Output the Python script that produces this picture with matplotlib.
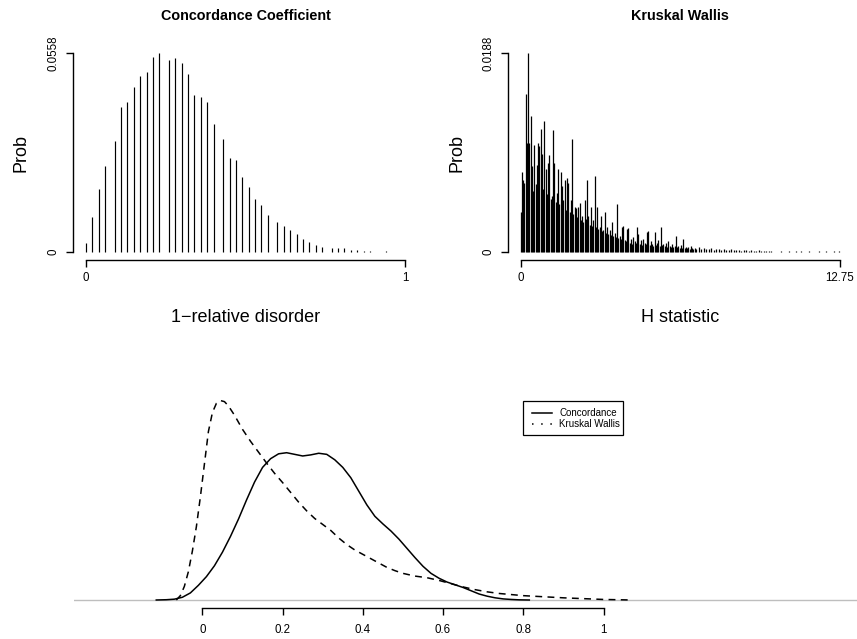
import matplotlib
matplotlib.use('Agg')
import matplotlib.pyplot as plt
from matplotlib.lines import Line2D
from matplotlib.patches import Rectangle

plt.rcParams['font.family'] = ['Liberation Sans', 'DejaVu Sans']

# ---------------- data ----------------
# Concordance coefficient (1 - relative disorder) exact distribution
conc_w = [0.00, 0.02, 0.04, 0.06, 0.09, 0.11, 0.13, 0.15, 0.17, 0.19, 0.21, 0.23,
          0.26, 0.28, 0.30, 0.32, 0.34, 0.36, 0.38, 0.40, 0.43, 0.45, 0.47, 0.49,
          0.51, 0.53, 0.55, 0.57, 0.60, 0.62, 0.64, 0.66, 0.68, 0.70, 0.72, 0.74,
          0.77, 0.79, 0.81, 0.83, 0.85, 0.87, 0.89, 0.94]
conc_p = [0.0026, 0.0098, 0.0177, 0.0242, 0.0312, 0.0406, 0.0420, 0.0463, 0.0493,
          0.0504, 0.0548, 0.0558, 0.0537, 0.0543, 0.0531, 0.0499, 0.0441, 0.0435,
          0.0420, 0.0358, 0.0316, 0.0264, 0.0258, 0.0211, 0.0182, 0.0150, 0.0133,
          0.0104, 0.0084, 0.0072, 0.0061, 0.0051, 0.0036, 0.0029, 0.0020, 0.0015,
          0.0011, 0.0011, 0.0010, 0.0007, 0.0006, 0.0004, 0.0003, 0.0002]
conc_ymax = 0.0558

# Kruskal Wallis H statistic exact distribution
kw_h1 = [0.00, 0.05, 0.10, 0.15, 0.20, 0.25, 0.30, 0.35, 0.40, 0.45, 0.50, 0.55,
         0.60, 0.65, 0.70, 0.75, 0.80, 0.85, 0.90, 0.95, 1.00, 1.05, 1.10, 1.15,
         1.20, 1.25, 1.30, 1.35, 1.40, 1.45, 1.50, 1.55, 1.60, 1.65, 1.70, 1.75,
         1.80, 1.85, 1.90, 1.95, 2.00, 2.05, 2.10, 2.15, 2.20, 2.25, 2.30, 2.35,
         2.40, 2.45, 2.50, 2.55, 2.60, 2.65, 2.70, 2.75, 2.80, 2.85, 2.90, 2.95,
         3.00, 3.05, 3.10, 3.15, 3.20, 3.25, 3.30, 3.35, 3.40, 3.45, 3.50, 3.55,
         3.60, 3.65, 3.70, 3.75, 3.80, 3.85, 3.90, 3.95, 4.00, 4.05, 4.10, 4.15]
kw_p1 = [0.0038, 0.0076, 0.0068, 0.0065, 0.0149, 0.0103, 0.0188, 0.0103, 0.0128,
         0.0081, 0.0058, 0.0101, 0.0064, 0.0082, 0.0103, 0.0100, 0.0116, 0.0093,
         0.0060, 0.0124, 0.0078, 0.0055, 0.0084, 0.0092, 0.0050, 0.0053, 0.0115,
         0.0084, 0.0047, 0.0056, 0.0078, 0.0045, 0.0076, 0.0062, 0.0049, 0.0068,
         0.0040, 0.0070, 0.0065, 0.0038, 0.0049, 0.0107, 0.0036, 0.0043, 0.0042,
         0.0033, 0.0043, 0.0046, 0.0030, 0.0034, 0.0028, 0.0049, 0.0031, 0.0068,
         0.0034, 0.0026, 0.0043, 0.0025, 0.0030, 0.0072, 0.0024, 0.0043, 0.0022,
         0.0024, 0.0034, 0.0020, 0.0021, 0.0038, 0.0018, 0.0024, 0.0017, 0.0021,
         0.0016, 0.0028, 0.0015, 0.0018, 0.0014, 0.0045, 0.0013, 0.0015, 0.0012,
         0.0024, 0.0025, 0.0011]
kw_h2 = [4.20, 4.25, 4.30, 4.35, 4.40, 4.45, 4.50, 4.55, 4.60, 4.65, 4.70, 4.75,
         4.80, 4.85, 4.90, 4.95, 5.00, 5.05, 5.10, 5.15, 5.20, 5.25, 5.30, 5.35,
         5.40, 5.45, 5.50, 5.55, 5.60, 5.65, 5.70, 5.75, 5.80, 5.85, 5.90, 5.95,
         6.00, 6.05, 6.10, 6.15, 6.20, 6.25, 6.30, 6.35, 6.40, 6.45, 6.50, 6.55,
         6.60, 6.65, 6.70, 6.75, 6.80, 6.85, 6.90, 6.95, 7.00]
kw_p2 = [0.0010, 0.0022, 0.0023, 0.0009, 0.0012, 0.0008, 0.0014, 0.0010, 0.0009,
         0.0024, 0.0017, 0.0008, 0.0011, 0.0007, 0.0012, 0.0009, 0.0008, 0.0019,
         0.0020, 0.0007, 0.0010, 0.0008, 0.0006, 0.0019, 0.0007, 0.0009, 0.0011,
         0.0006, 0.0024, 0.0007, 0.0008, 0.0006, 0.0009, 0.0005, 0.0010, 0.0006,
         0.0005, 0.0008, 0.0005, 0.0006, 0.0015, 0.0005, 0.0006, 0.0004, 0.0007,
         0.0004, 0.0012, 0.0004, 0.0005, 0.0004, 0.0005, 0.0003, 0.0006, 0.0004,
         0.0003, 0.0004, 0.0003]
kw_h3 = [7.1, 7.2, 7.3, 7.4, 7.5, 7.6, 7.7, 7.8, 7.9, 8.0, 8.1, 8.2, 8.3, 8.4, 8.5,
         8.6, 8.7, 8.8, 8.9, 9.0, 9.1, 9.2, 9.3, 9.4, 9.5, 9.6, 9.7, 9.8, 9.9, 10.0,
         10.4, 10.7, 11.0, 11.2, 11.5, 11.9, 12.2, 12.5, 12.7]
kw_p3 = [0.0005, 0.0003, 0.0004, 0.0003, 0.0003, 0.0004, 0.0002, 0.0003, 0.0003,
         0.0002, 0.0003, 0.0002, 0.0002, 0.0003, 0.0002, 0.0002, 0.0002, 0.0001,
         0.0002, 0.0002, 0.0001, 0.0002, 0.0001, 0.0001, 0.0002, 0.0001, 0.0001,
         0.0001, 0.0001, 0.0001, 0.00012, 0.00012, 0.00012, 0.00012, 0.00012,
         0.00012, 0.00012, 0.00012, 0.00012]
kw_xmax = 12.75
kw_ymax = 0.0188

# Density estimates (normalised scale)
dens_conc_x = [-0.115, -0.09, -0.07, -0.05, -0.03, -0.01, 0.01, 0.03, 0.05, 0.07,
               0.09, 0.11, 0.13, 0.15, 0.17, 0.19, 0.21, 0.23, 0.25, 0.27, 0.29,
               0.31, 0.33, 0.35, 0.37, 0.39, 0.41, 0.43, 0.45, 0.47, 0.49, 0.51,
               0.53, 0.55, 0.57, 0.59, 0.61, 0.63, 0.65, 0.67, 0.69, 0.71, 0.73,
               0.75, 0.77, 0.79, 0.815]
dens_conc_y = [0.0, 0.005, 0.015, 0.05, 0.13, 0.27, 0.43, 0.63, 0.88, 1.17, 1.49,
               1.84, 2.17, 2.44, 2.60, 2.69, 2.71, 2.68, 2.65, 2.67, 2.70, 2.68,
               2.58, 2.44, 2.25, 2.00, 1.75, 1.54, 1.40, 1.27, 1.12, 0.95, 0.78,
               0.62, 0.49, 0.40, 0.33, 0.28, 0.23, 0.17, 0.11, 0.07, 0.04, 0.02,
               0.01, 0.003, 0.0]
dens_kw_x = [-0.065, -0.055, -0.045, -0.035, -0.025, -0.015, -0.005, 0.005, 0.015,
             0.025, 0.035, 0.045, 0.055, 0.065, 0.08, 0.10, 0.12, 0.14, 0.16, 0.18,
             0.20, 0.22, 0.24, 0.26, 0.28, 0.30, 0.32, 0.34, 0.36, 0.38, 0.40, 0.42,
             0.44, 0.46, 0.48, 0.50, 0.53, 0.56, 0.59, 0.62, 0.65, 0.68, 0.71, 0.74,
             0.77, 0.80, 0.85, 0.90, 0.95, 1.00, 1.07]
dens_kw_y = [0.0, 0.08, 0.25, 0.52, 0.90, 1.35, 1.90, 2.50, 3.10, 3.45, 3.62, 3.67,
             3.65, 3.57, 3.40, 3.14, 2.92, 2.72, 2.52, 2.33, 2.16, 1.98, 1.80, 1.64,
             1.50, 1.39, 1.28, 1.14, 1.02, 0.92, 0.84, 0.76, 0.68, 0.60, 0.54, 0.49,
             0.44, 0.41, 0.36, 0.30, 0.24, 0.19, 0.15, 0.12, 0.10, 0.08, 0.06, 0.04,
             0.025, 0.01, 0.0]
dens_ticks = [0, 0.2, 0.4, 0.6, 0.8, 1]
dens_ticklabels = ['0', '0.2', '0.4', '0.6', '0.8', '1']

# ---------------- figure ----------------
W, H = 857, 639
fig = plt.figure(figsize=(W / 100, H / 100), dpi=100)


def ax_px(x0, y0, x1, y1):
    return fig.add_axes([x0 / W, 1 - y1 / H, (x1 - x0) / W, (y1 - y0) / H])


def fx(px):
    return px / W


def fy(py):
    return 1 - py / H


TICK_FS = 8.3
LAB_FS = 13


def style_top(ax, xmax, ymax, xlabels, ylabels):
    for s in ['top', 'right']:
        ax.spines[s].set_visible(False)
    ax.spines['left'].set_bounds(0, ymax)
    ax.spines['bottom'].set_bounds(0, xmax)
    for s in ['left', 'bottom']:
        ax.spines[s].set_linewidth(1.0)
    ax.set_xlim(-0.04 * xmax, 1.04 * xmax)
    ax.set_ylim(-0.04 * ymax, 1.04 * ymax)
    ax.set_xticks([0, xmax])
    ax.set_xticklabels(xlabels)
    ax.set_yticks([0, ymax])
    ax.set_yticklabels(ylabels)
    ax.tick_params(axis='both', direction='out', length=5, width=1.0,
                   labelsize=TICK_FS)
    ax.tick_params(axis='x', pad=3.6)
    ax.tick_params(axis='y', pad=5.0)
    for lab in ax.get_yticklabels():
        lab.set_rotation(90)
        lab.set_va('center')
        lab.set_ha('right')


# Top-left: concordance coefficient
ax1 = ax_px(73.2, 45, 417.8, 260)
ax1.vlines(conc_w, 0, conc_p, color='black', lw=0.85)
style_top(ax1, 1.0, conc_ymax, ['0', '1'], ['0', '0.0558'])
fig.text(fx(245.5), fy(16), 'Concordance Coefficient', ha='center', va='center',
         fontsize=10.4, fontweight='bold')
fig.text(fx(21), fy(152.5), 'Prob', rotation=90, ha='center', va='center',
         fontsize=LAB_FS)
fig.text(fx(245.5), fy(317), '1\u2212relative disorder', ha='center', va='center',
         fontsize=LAB_FS)

# Top-right: Kruskal Wallis
ax2 = ax_px(507.9, 45, 852.8, 260)
ax2.vlines(kw_h1 + kw_h2 + kw_h3, 0, kw_p1 + kw_p2 + kw_p3, color='black', lw=0.9)
style_top(ax2, kw_xmax, kw_ymax, ['0', '12.75'], ['0', '0.0188'])
fig.text(fx(680.4), fy(16), 'Kruskal Wallis', ha='center', va='center',
         fontsize=10.4, fontweight='bold')
fig.text(fx(457), fy(152.5), 'Prob', rotation=90, ha='center', va='center',
         fontsize=LAB_FS)
fig.text(fx(680.4), fy(317), 'H statistic', ha='center', va='center',
         fontsize=LAB_FS)

# Bottom: density comparison
x0px, x1px = 74, 857
zero_px, one_px = 202.4, 603.5
unit = one_px - zero_px
k = 0.0184
ax3 = ax_px(x0px, 392, x1px, 608.3)
ax3.set_xlim((x0px - zero_px) / unit, (x1px - zero_px) / unit)
ax3.set_ylim(-(608.3 - 600) * k, (600 - 392) * k)
ax3.axhline(0, color='#BEBEBE', lw=1.0, zorder=1)
ax3.plot(dens_conc_x, dens_conc_y, color='black', lw=1.1, zorder=3)
ax3.plot(dens_kw_x, dens_kw_y, color='black', lw=1.1, ls=(0, (4.5, 3.5)), zorder=3)
for s in ['top', 'right', 'left']:
    ax3.spines[s].set_visible(False)
ax3.spines['bottom'].set_bounds(0, 1)
ax3.spines['bottom'].set_linewidth(1.0)
ax3.set_xticks(dens_ticks)
ax3.set_xticklabels(dens_ticklabels)
ax3.set_yticks([])
ax3.tick_params(axis='x', direction='out', length=4.8, width=1.0,
                labelsize=TICK_FS, pad=6.5)

# Legend box (drawn in figure pixel space)
fig.patches.append(Rectangle((fx(523), fy(435)), fx(623) - fx(523), fy(401) - fy(435),
                             transform=fig.transFigure, fill=False, ec='black',
                             lw=0.9))
fig.lines.append(Line2D([fx(532), fx(552)], [fy(412.7), fy(412.7)],
                        transform=fig.transFigure, color='black', lw=1.1))
fig.lines.append(Line2D([fx(532), fx(552)], [fy(424.3), fy(424.3)],
                        transform=fig.transFigure, color='black', lw=1.1,
                        ls=(0, (1, 5))))
fig.text(fx(559), fy(412.7), 'Concordance', ha='left', va='center', fontsize=7)
fig.text(fx(559), fy(424.3), 'Kruskal Wallis', ha='left', va='center', fontsize=7)

fig.savefig('out.png', dpi=100)
